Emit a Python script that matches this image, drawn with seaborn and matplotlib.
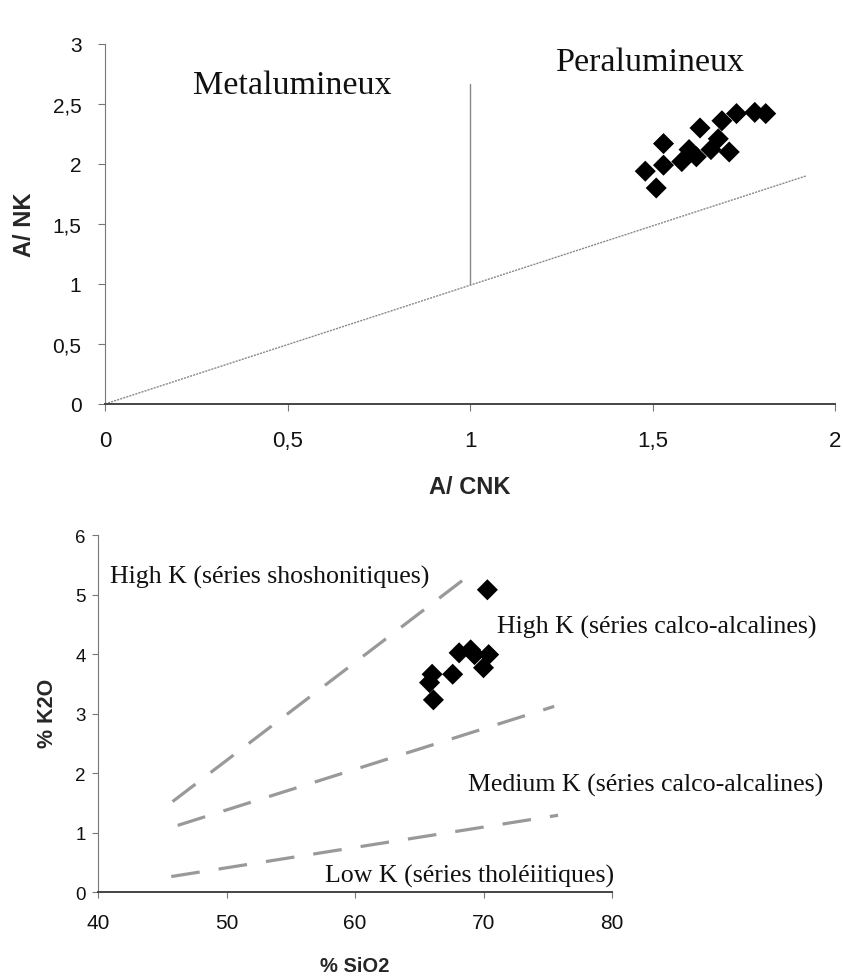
import matplotlib
matplotlib.use("Agg")
import matplotlib.pyplot as plt
import seaborn as sns
import pandas as pd
from matplotlib.ticker import FuncFormatter

# ---------------- data ----------------
# Panel 1 : A/CNK vs A/NK
acnk = [1.48, 1.51, 1.53, 1.53, 1.58, 1.60, 1.62, 1.63, 1.66, 1.68, 1.69, 1.71, 1.73, 1.78, 1.81]
ank  = [1.94, 1.80, 2.17, 1.99, 2.02, 2.12, 2.06, 2.30, 2.12, 2.21, 2.36, 2.10, 2.42, 2.43, 2.42]
shand_diag_x = [0.0, 1.92]
shand_diag_y = [0.0, 1.90]
shand_vert_x = [1.0, 1.0]
shand_vert_y = [1.0, 2.67]

# Panel 2 : SiO2 vs K2O
sio2 = [70.3, 66.1, 65.8, 66.0, 67.6, 68.1, 69.0, 69.3, 70.0, 70.4]
k2o  = [5.08, 3.23, 3.52, 3.66, 3.66, 4.02, 4.07, 3.99, 3.77, 3.99]
line_sho_x = [45.8, 68.5]
line_sho_y = [1.52, 5.26]
line_hk_x  = [46.2, 75.5]
line_hk_y  = [1.12, 3.12]
line_lk_x  = [45.7, 75.8]
line_lk_y  = [0.26, 1.29]

xticks1 = [0, 0.5, 1, 1.5, 2]
yticks1 = [0, 0.5, 1, 1.5, 2, 2.5, 3]
xticks2 = [40, 50, 60, 70, 80]
yticks2 = [0, 1, 2, 3, 4, 5, 6]

# ---------------- style ----------------
sns.set_theme(style="ticks")
plt.rcParams["font.family"] = ["Liberation Sans", "DejaVu Sans"]

fig = plt.figure(figsize=(8.43, 9.78), dpi=100)
ax1 = fig.add_axes([0.1246, 0.5859, 0.866, 0.3681])
ax2 = fig.add_axes([0.1163, 0.0869, 0.6097, 0.3650])

comma = FuncFormatter(lambda v, p: ("%g" % v).replace(".", ","))
serif = ["Liberation Serif", "DejaVu Serif"]

for ax in (ax1, ax2):
    for s in ("top", "right"):
        ax.spines[s].set_visible(False)
    ax.spines["left"].set_color("#777777")
    ax.spines["left"].set_linewidth(0.8)
    ax.spines["bottom"].set_color("#444444")
    ax.spines["bottom"].set_linewidth(1.4)
    ax.set_facecolor("white")

ax1.tick_params(axis="both", direction="out", length=5, width=0.8, color="#777777", labelcolor="#111111")
ax1.tick_params(axis="x", labelsize=16, pad=14)
ax1.tick_params(axis="y", labelsize=15, pad=12)
ax2.tick_params(axis="both", direction="out", length=4, width=0.8, color="#777777", labelcolor="#111111")
ax2.tick_params(axis="x", labelsize=15, pad=11)
ax2.tick_params(axis="y", labelsize=13.5, pad=5)

# ---- panel 1 ----
ax1.plot(shand_diag_x, shand_diag_y, color="#888888", lw=1.0, ls=(0, (1.5, 0.8)))
ax1.plot(shand_vert_x, shand_vert_y, color="#888888", lw=1.0)
df1 = pd.DataFrame({"A/ CNK": acnk, "A/ NK": ank})
sns.scatterplot(data=df1, x="A/ CNK", y="A/ NK", ax=ax1, marker="D", s=115,
                color="black", edgecolor="none", zorder=5)
ax1.set_xlim(0, 2)
ax1.set_ylim(0, 3)
ax1.set_xticks(xticks1)
ax1.set_yticks(yticks1)
ax1.xaxis.set_major_formatter(comma)
ax1.yaxis.set_major_formatter(comma)
ax1.set_xlabel("A/ CNK", fontsize=17, fontweight="bold")
ax1.set_ylabel("A/ NK", fontsize=17, fontweight="bold")
ax1.xaxis.label.set_va("center")
ax1.yaxis.label.set_va("center")
ax1.xaxis.set_label_coords(0.5, -0.228)
ax1.yaxis.set_label_coords(-0.110, 0.5)
ax1.text(0.512, 2.66, "Metalumineux", family=serif, fontsize=24.5, ha="center", va="center", color="#111111")
ax1.text(1.493, 2.85, "Peralumineux", family=serif, fontsize=24.5, ha="center", va="center", color="#111111")

# ---- panel 2 ----
dash = (0, (9, 6))
for xs, ys in ((line_sho_x, line_sho_y), (line_hk_x, line_hk_y), (line_lk_x, line_lk_y)):
    ax2.plot(xs, ys, color="#999999", lw=2.3, ls=dash, dash_capstyle="butt")
df2 = pd.DataFrame({"% SiO2": sio2, "% K2O": k2o})
sns.scatterplot(data=df2, x="% SiO2", y="% K2O", ax=ax2, marker="D", s=115,
                color="black", edgecolor="none", zorder=5)
ax2.set_xlim(40, 80)
ax2.set_ylim(0, 6)
ax2.set_xticks(xticks2)
ax2.set_yticks(yticks2)
ax2.set_xlabel("% SiO2", fontsize=14.5, fontweight="bold")
ax2.set_ylabel("% K2O", fontsize=15.5, fontweight="bold")
ax2.xaxis.label.set_va("center")
ax2.yaxis.label.set_va("center")
ax2.xaxis.set_label_coords(0.5, -0.205)
ax2.yaxis.set_label_coords(-0.099, 0.504)
ax2.text(40.9, 5.30, "High K (séries shoshonitiques)", family=serif, fontsize=18.6, ha="left", va="center", color="#111111", clip_on=False)
ax2.text(71.05, 4.47, "High K (séries calco-alcalines)", family=serif, fontsize=18.6, ha="left", va="center", color="#111111", clip_on=False)
ax2.text(68.8, 1.80, "Medium K (séries calco-alcalines)", family=serif, fontsize=18.6, ha="left", va="center", color="#111111", clip_on=False)
ax2.text(57.7, 0.27, "Low K (séries tholéiitiques)", family=serif, fontsize=18.6, ha="left", va="center", color="#111111", clip_on=False)

fig.savefig("out.png", dpi=100, facecolor="white")
